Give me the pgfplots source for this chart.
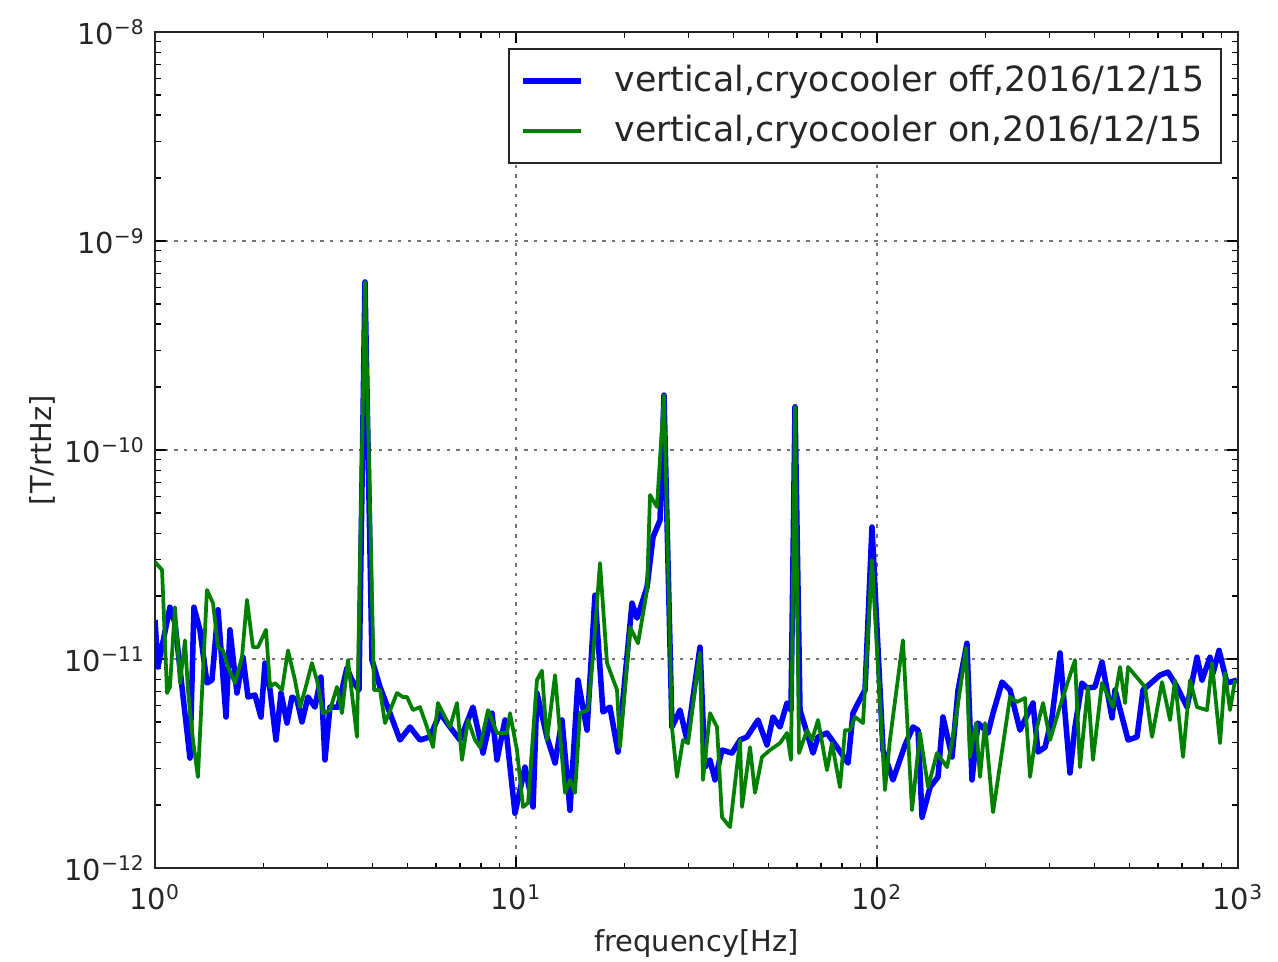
\documentclass[border=0pt]{standalone}
\usepackage{fontspec}
\setmainfont{DejaVu Sans}
\usepackage{pgfplots}
\pgfplotsset{compat=1.18}
\usepackage{pgfplotstable}

\definecolor{mplblue}{rgb}{0,0,1}
\definecolor{mplgreen}{rgb}{0,0.5,0}

% vertical field noise, cryocooler off (frequency in Hz, amplitude in T/rtHz)
\pgfplotstableread{
f A
1.000 15.4e-12
1.019 9.16e-12
1.100 17.7e-12
1.136 14.9e-12
1.188 7.35e-12
1.250 3.36e-12
1.282 17.7e-12
1.332 13.8e-12
1.393 7.68e-12
1.438 7.93e-12
1.495 17.2e-12
1.573 5.28e-12
1.613 13.8e-12
1.687 6.88e-12
1.753 10.2e-12
1.810 6.58e-12
1.892 6.73e-12
1.966 5.28e-12
2.017 9.57e-12
2.083 7.11e-12
2.164 4.10e-12
2.234 6.88e-12
2.321 4.94e-12
2.396 6.58e-12
2.474 6.37e-12
2.554 5.00e-12
2.653 6.58e-12
2.774 5.89e-12
2.882 8.20e-12
2.957 3.29e-12
3.053 5.89e-12
3.213 5.89e-12
3.402 9.06e-12
3.513 7.93e-12
3.674 7.11e-12
3.817 637e-12
3.992 9.89e-12
4.201 7.35e-12
4.477 5.51e-12
4.771 4.10e-12
5.086 4.73e-12
5.421 4.10e-12
5.777 4.24e-12
6.158 5.51e-12
6.564 4.73e-12
6.996 4.10e-12
7.601 5.89e-12
8.102 3.55e-12
8.581 5.51e-12
8.859 3.29e-12
9.322 5.11e-12
9.936 1.83e-12
10.59 3.04e-12
11.15 1.96e-12
11.43 6.88e-12
12.18 4.24e-12
12.83 3.18e-12
13.41 5.11e-12
14.11 1.89e-12
14.85 7.93e-12
15.73 4.57e-12
16.55 20.2e-12
17.42 5.58e-12
18.21 5.89e-12
19.17 3.59e-12
20.96 18.5e-12
21.64 15.7e-12
23.07 22.1e-12
23.96 38.3e-12
25.06 46.2e-12
25.70 183e-12
27.04 4.73e-12
28.46 5.70e-12
29.77 4.10e-12
32.34 11.4e-12
33.38 3.04e-12
34.46 3.29e-12
35.58 2.64e-12
37.21 3.67e-12
39.66 3.55e-12
41.74 4.10e-12
43.64 4.24e-12
46.81 5.11e-12
49.58 3.88e-12
51.51 5.28e-12
53.86 4.73e-12
56.32 6.16e-12
57.78 5.70e-12
59.28 161e-12
61.20 5.70e-12
63.99 4.43e-12
66.49 3.55e-12
68.65 4.24e-12
72.69 4.43e-12
77.48 3.79e-12
83.12 3.18e-12
85.81 5.51e-12
88.61 6.16e-12
92.65 7.11e-12
96.85 42.8e-12
103.9 3.67e-12
110.7 2.64e-12
119.6 3.88e-12
125.8 4.73e-12
129.9 4.57e-12
133.3 1.75e-12
140.3 2.44e-12
147.6 2.73e-12
152.3 5.28e-12
161.4 3.40e-12
167.7 7.11e-12
177.5 11.9e-12
183.3 2.64e-12
190.4 4.94e-12
203.0 4.43e-12
209.6 5.51e-12
222.0 7.76e-12
233.6 7.11e-12
248.9 4.57e-12
270.4 6.16e-12
279.3 3.59e-12
292.1 3.79e-12
305.4 5.28e-12
321.3 10.7e-12
342.4 2.85e-12
353.5 4.73e-12
369.7 7.68e-12
381.6 7.27e-12
401.6 7.35e-12
420.0 9.67e-12
447.7 5.23e-12
456.4 7.11e-12
495.9 4.10e-12
525.2 4.24e-12
545.6 7.11e-12
608.1 8.38e-12
640.0 8.66e-12
677.8 7.35e-12
722.4 5.89e-12
769.9 10.2e-12
795.0 7.93e-12
836.5 10.2e-12
852.7 8.57e-12
886.1 11.0e-12
932.2 7.68e-12
993.6 7.93e-12
}\offdata

% vertical field noise, cryocooler on
\pgfplotstableread{
f A
1.000 29.1e-12
1.046 26.7e-12
1.080 6.88e-12
1.100 7.35e-12
1.136 17.7e-12
1.173 7.68e-12
1.211 12.3e-12
1.234 7.11e-12
1.274 4.10e-12
1.315 2.73e-12
1.358 8.57e-12
1.393 21.4e-12
1.448 18.5e-12
1.495 11.4e-12
1.543 11.0e-12
1.593 9.16e-12
1.666 7.68e-12
1.742 10.2e-12
1.798 19.2e-12
1.868 11.4e-12
1.929 11.4e-12
2.030 13.8e-12
2.083 7.35e-12
2.150 7.68e-12
2.248 7.11e-12
2.336 11.0e-12
2.442 7.93e-12
2.522 5.89e-12
2.603 7.11e-12
2.721 9.57e-12
2.809 7.93e-12
2.920 5.51e-12
3.053 5.70e-12
3.193 7.35e-12
3.296 5.51e-12
3.424 9.89e-12
3.627 4.24e-12
3.817 637e-12
4.043 7.11e-12
4.201 7.11e-12
4.337 4.94e-12
4.681 6.88e-12
4.864 6.58e-12
4.989 6.58e-12
5.184 5.70e-12
5.421 5.89e-12
5.668 4.73e-12
5.889 3.79e-12
6.080 6.16e-12
6.564 4.73e-12
6.864 6.16e-12
7.086 3.29e-12
7.362 5.11e-12
7.699 4.10e-12
7.949 3.79e-12
8.365 5.70e-12
8.859 4.43e-12
9.443 4.43e-12
9.625 5.51e-12
10.06 3.67e-12
10.46 1.96e-12
10.80 2.05e-12
11.43 7.93e-12
11.80 8.80e-12
12.18 4.10e-12
12.83 8.38e-12
13.67 2.29e-12
14.11 2.64e-12
14.57 2.29e-12
15.04 5.51e-12
15.83 5.70e-12
16.34 10.2e-12
17.09 28.8e-12
17.87 9.57e-12
19.05 7.11e-12
19.42 3.79e-12
20.70 14.2e-12
21.78 11.9e-12
23.07 21.4e-12
23.51 60.9e-12
24.58 53.4e-12
25.70 183e-12
27.04 4.73e-12
27.92 2.73e-12
29.01 4.10e-12
29.96 3.96e-12
31.73 8.57e-12
32.34 10.7e-12
32.96 2.64e-12
34.46 5.51e-12
36.04 4.73e-12
37.21 1.75e-12
39.16 1.57e-12
41.74 4.10e-12
42.27 1.96e-12
44.49 3.79e-12
45.92 2.29e-12
48.02 3.40e-12
50.54 3.67e-12
53.86 3.96e-12
56.32 4.43e-12
57.78 3.29e-12
59.28 161e-12
60.81 3.55e-12
63.99 4.57e-12
66.06 4.10e-12
68.65 5.11e-12
72.69 2.94e-12
75.04 3.96e-12
78.97 2.44e-12
81.54 4.57e-12
84.19 4.57e-12
86.93 5.28e-12
91.47 4.94e-12
96.85 29.8e-12
105.2 2.36e-12
108.6 4.10e-12
118.0 12.3e-12
125.0 1.89e-12
131.5 4.43e-12
138.5 2.44e-12
146.6 3.55e-12
156.3 3.04e-12
162.4 4.24e-12
169.8 7.11e-12
176.4 11.3e-12
180.9 3.40e-12
188.0 4.94e-12
192.9 2.73e-12
199.2 4.94e-12
209.6 1.85e-12
233.6 6.58e-12
244.3 6.23e-12
257.0 6.51e-12
265.4 2.73e-12
277.5 4.73e-12
288.4 6.16e-12
301.5 4.10e-12
325.4 6.37e-12
353.5 9.89e-12
365.0 3.04e-12
384.1 7.35e-12
396.5 3.29e-12
420.0 7.68e-12
450.6 5.89e-12
471.2 9.16e-12
486.5 6.16e-12
495.9 9.16e-12
552.7 7.35e-12
577.9 4.24e-12
616.0 7.76e-12
648.2 5.11e-12
669.2 7.93e-12
704.2 3.40e-12
736.3 7.93e-12
769.9 5.89e-12
820.7 5.70e-12
847.3 9.57e-12
891.8 3.96e-12
920.4 8.57e-12
950.2 5.70e-12
981.1 7.93e-12
}\ondata

\begin{document}
\begin{tikzpicture}
\begin{axis}[
  scale only axis,
  width=389.9pt, height=301pt,
  xmode=log, ymode=log,
  xmin=1, xmax=1000, ymin=1e-12, ymax=1e-8,
  xtick={1,10,100,1000},
  xticklabels={10\textsuperscript{0},10\textsuperscript{1},10\textsuperscript{2},10\textsuperscript{3}},
  minor xtick={2,3,4,5,6,7,8,9,20,30,40,50,60,70,80,90,200,300,400,500,600,700,800,900},
  ytick={1e-12,1e-11,1e-10,1e-9,1e-8},
  yticklabels={10\textsuperscript{−12},10\textsuperscript{−11},10\textsuperscript{−10},10\textsuperscript{−9},10\textsuperscript{−8}},
  minor ytick={2e-12,3e-12,4e-12,5e-12,6e-12,7e-12,8e-12,9e-12,
               2e-11,3e-11,4e-11,5e-11,6e-11,7e-11,8e-11,9e-11,
               2e-10,3e-10,4e-10,5e-10,6e-10,7e-10,8e-10,9e-10,
               2e-9,3e-9,4e-9,5e-9,6e-9,7e-9,8e-9,9e-9},
  tick align=inside,
  major tick length=4pt, minor tick length=2pt,
  every tick/.style={black, line width=0.5pt},
  axis line style={line width=0.7pt, black!85},
  ticklabel style={font=\fontsize{10.4}{12}\selectfont, black!85},
  xticklabel style={yshift=-2.5pt},
  label style={font=\fontsize{10.4}{12}\selectfont, black!85},
  xlabel={frequency[Hz]},
  ylabel={[T/rtHz]},
  xlabel style={yshift=0pt},
  ylabel style={yshift=-3.6pt},
  grid=major,
  major grid style={black!55, line width=0.5pt, dash pattern=on 1.2pt off 2.3pt},
  legend style={at={(1,1)}, anchor=north east, xshift=-5.8pt, yshift=-5.8pt,
    draw=black!85, line width=0.6pt, fill=white, text=black!85,
    font=\fontsize{12.5}{15}\selectfont,
    inner xsep=4pt, inner ysep=4pt, row sep=3pt},
  legend cell align=left,
  legend image code/.code={\draw[#1] (0pt,0pt) -- (21pt,0pt); \path (30pt,0pt);},
]
\addplot[mplblue, line width=2.0pt, line join=round] table[x=f, y=A] {\offdata};
\addlegendentry{vertical,cryocooler off,2016/12/15}
\addplot[mplgreen, line width=1.35pt, line join=round] table[x=f, y=A] {\ondata};
\addlegendentry{vertical,cryocooler on,2016/12/15}
\coordinate (bl) at (rel axis cs:0,0);
\coordinate (tr) at (rel axis cs:1,1);
\end{axis}
\pgfresetboundingbox
\path ([shift={(-55.8pt,-33.8pt)}]bl) rectangle ([shift={(14.4pt,11.5pt)}]tr);
\end{tikzpicture}
\end{document}
